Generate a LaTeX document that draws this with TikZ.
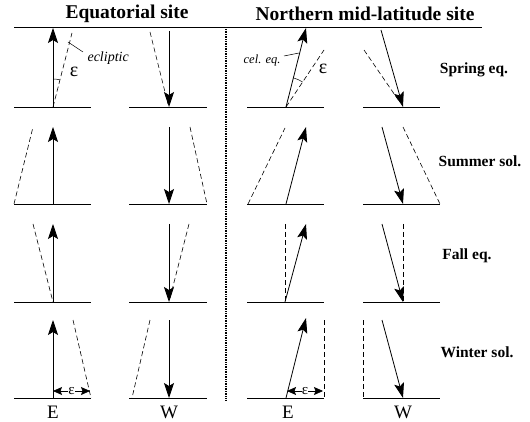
\documentclass[tikz,border=0pt]{standalone}
\usepackage{fontspec}
\setmainfont{Liberation Serif}
\usetikzlibrary{arrows.meta,calc}
\begin{document}
\begin{tikzpicture}[x=1pt,y=-1pt,
  ground/.style={line width=0.9pt},
  ray/.style={line width=0.8pt,-{Stealth[length=15pt,width=10pt,inset=3pt]}},
  refline/.style={line width=0.6pt,dash pattern=on 5pt off 3pt},
  dimline/.style={line width=0.7pt,{Stealth[length=9pt,width=8pt,inset=1.5pt]}-{Stealth[length=9pt,width=8pt,inset=1.5pt]}},
  leader/.style={line width=0.5pt},
  titletext/.style={font=\bfseries\fontsize{19.5}{21}\selectfont},
  seasontext/.style={font=\bfseries\fontsize{15.5}{17}\selectfont},
  dirtext/.style={font=\fontsize{19}{20}\selectfont},
  lbltext/.style={font=\itshape\fontsize{14}{15}\selectfont},
  epstext/.style={font=\fontsize{20}{20}\selectfont},
  smalleps/.style={font=\fontsize{15}{15}\selectfont,fill=white,inner sep=0.2pt}]
\useasboundingbox (0,0) rectangle (530,422);

% titles and frame
\node[titletext] (t1) at (127,14) {Equatorial site};
\node[titletext] (t2) at (365,14) {Northern mid-latitude site};
\coordinate (tl) at (14,27);
\coordinate (tr) at (482,27);
\draw[line width=0.8pt] (tl) -- (tr);
\coordinate (dtop) at (226,29);
\coordinate (dbot) at (226,400);
\draw[line width=1.4pt,dash pattern=on 0.9pt off 0.8pt] (dtop) -- (dbot);

% ground lines
\foreach \y in {107,204,302,398}{
  \draw[ground] (14,\y) -- (91,\y);
  \draw[ground] (129,\y) -- (207,\y);
  \draw[ground] (247,\y) -- (324,\y);
  \draw[ground] (363,\y) -- (440,\y);
}

% ---------- Row 1: spring equinox ----------
\coordinate (a1) at (53,107);  \coordinate (a1t) at (53,28);
\coordinate (d1) at (72,33);
\draw[refline] (a1) -- (d1);
\draw[ray] (a1) -- (a1t);
\draw[leader] ($(a1)+(-90:28)$) arc[start angle=-90,end angle=-75.6,radius=28];
\node[epstext] (e1) at (74,72) {ε};
\coordinate (l1a) at (68,42); \coordinate (l1b) at (83,52);
\draw[leader] (l1a) -- (l1b);
\node[lbltext,anchor=west] (ecl) at (84,58) {ecliptic};

\coordinate (b1t) at (169,31); \coordinate (b1) at (169,107);
\coordinate (b1d) at (150,32); \coordinate (b1e) at (168,104);
\draw[refline] (b1d) -- (b1e);
\draw[ray] (b1t) -- (b1);

\coordinate (c1) at (286,107); \coordinate (c1t) at (306,28);
\coordinate (c1d) at (324,50);
\draw[refline] (c1) -- (c1d);
\draw[ray] (c1) -- (c1t);
\draw[leader] ($(c1)+(-75.8:30)$) arc[start angle=-75.8,end angle=-56.3,radius=30];
\node[epstext] (e2) at (323,69) {ε};
\coordinate (l2a) at (284,56); \coordinate (l2b) at (299,53);
\draw[leader] (l2a) -- (l2b);
\node[lbltext,anchor=east,font=\itshape\fontsize{12.5}{13}\selectfont] (ceq) at (284,60) {cel. eq.};

\coordinate (n1t) at (381,30); \coordinate (n1) at (403,107);
\coordinate (n1d) at (364,50); \coordinate (n1e) at (399,101);
\draw[refline] (n1d) -- (n1e);
\draw[ray] (n1t) -- (n1);
\node[seasontext] (s1) at (474,70) {Spring eq.};

% ---------- Row 2: summer solstice ----------
\coordinate (a2) at (53,204); \coordinate (a2t) at (53,127);
\coordinate (a2d) at (14,204); \coordinate (a2e) at (33,127);
\draw[refline] (a2d) -- (a2e);
\draw[ray] (a2) -- (a2t);

\coordinate (b2t) at (169,127); \coordinate (b2) at (169,204);
\coordinate (b2d) at (190,127); \coordinate (b2e) at (207,204);
\draw[refline] (b2d) -- (b2e);
\draw[ray] (b2t) -- (b2);

\coordinate (c2) at (286,204); \coordinate (c2t) at (306,127);
\coordinate (c2d) at (248,204); \coordinate (c2e) at (285,128);
\draw[refline] (c2d) -- (c2e);
\draw[ray] (c2) -- (c2t);

\coordinate (n2t) at (382,127); \coordinate (n2) at (403,204);
\coordinate (n2d) at (403,127); \coordinate (n2e) at (440,204);
\draw[refline] (n2d) -- (n2e);
\draw[ray] (n2t) -- (n2);
\node[seasontext] (s2) at (480,161) {Summer sol.};

% ---------- Row 3: fall equinox ----------
\coordinate (a3) at (53,302); \coordinate (a3t) at (53,224);
\coordinate (a3d) at (33,224);
\draw[refline] (a3d) -- (a3);
\draw[ray] (a3) -- (a3t);

\coordinate (b3t) at (169,224); \coordinate (b3) at (169,302);
\coordinate (b3d) at (189,224); \coordinate (b3e) at (170,298);
\draw[refline] (b3d) -- (b3e);
\draw[ray] (b3t) -- (b3);

\coordinate (c3) at (285,302); \coordinate (c3t) at (306,224);
\coordinate (c3d) at (285,224);
\draw[refline] (c3d) -- (c3);
\draw[ray] (c3) -- (c3t);

\coordinate (n3t) at (382,224); \coordinate (n3) at (403,302);
\coordinate (n3d) at (403,224);
\draw[refline] (n3d) -- (n3);
\draw[ray] (n3t) -- (n3);
\node[seasontext] (s3) at (467,256) {Fall eq.};

% ---------- Row 4: winter solstice ----------
\coordinate (a4) at (53,398); \coordinate (a4t) at (53,320);
\coordinate (a4d) at (73,320); \coordinate (a4e) at (91,398);
\draw[refline] (a4d) -- (a4e);
\draw[ray] (a4) -- (a4t);
\coordinate (m1a) at (53,391); \coordinate (m1b) at (90,391);
\draw[dimline] (m1a) -- (m1b);
\node[smalleps] (e3) at ($(m1a)!0.5!(m1b)$) {ε};

\coordinate (b4t) at (169,320); \coordinate (b4) at (169,398);
\coordinate (b4d) at (150,320); \coordinate (b4e) at (132,398);
\draw[refline] (b4d) -- (b4e);
\draw[ray] (b4t) -- (b4);

\coordinate (c4) at (286,398); \coordinate (c4t) at (306,318);
\coordinate (c4d) at (324,320); \coordinate (c4e) at (324,398);
\draw[refline] (c4d) -- (c4e);
\draw[ray] (c4) -- (c4t);
\coordinate (m2a) at (287,391); \coordinate (m2b) at (323,391);
\draw[dimline] (m2a) -- (m2b);
\node[smalleps] (e4) at ($(m2a)!0.5!(m2b)$) {ε};

\coordinate (n4t) at (382,320); \coordinate (n4) at (403,398);
\coordinate (n4d) at (363,320); \coordinate (n4e) at (363,398);
\draw[refline] (n4d) -- (n4e);
\draw[ray] (n4t) -- (n4);
\node[seasontext] (s4) at (477,352) {Winter sol.};

% direction labels
\node[dirtext] (E1) at (53,412) {E};
\node[dirtext] (W1) at (169,412) {W};
\node[dirtext] (E2) at (288,412) {E};
\node[dirtext] (W2) at (403,412) {W};
\end{tikzpicture}
\end{document}
